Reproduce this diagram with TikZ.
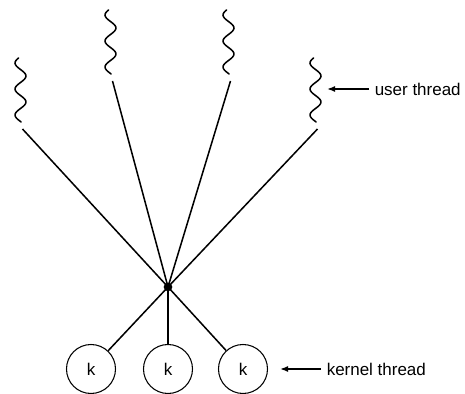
\documentclass[tikz,border=0pt]{standalone}
\usepackage{fontspec}
\setmainfont{Liberation Sans}
\usetikzlibrary{arrows.meta}

\begin{document}
\begin{tikzpicture}[x=0.03cm,y=-0.03cm,
        line width=1.3pt,
        lbl/.style={font=\fontsize{14.5}{17}\selectfont,inner sep=0pt,anchor=west},
        kthr/.style={draw,circle,line width=0.9pt,minimum size=1.47cm,inner sep=0pt,
                     font=\fontsize{14.5}{17}\selectfont},
        arr/.style={-{Latex[length=2.4mm,width=1.8mm]},line width=1.3pt},
        uthread/.pic={
            \draw[line width=1.3pt,line cap=round] plot[smooth,domain=0:64,samples=50,variable=\t]
                ({-5.5*sin(13.846*(\t+1.5))},\t);
            \coordinate (-foot) at (2,71);
        }]
        \useasboundingbox (0,0) rectangle (465,394);
        % user threads
        \pic (u1) at (20.5,58) {uthread};
        \pic (u2) at (110.5,10) {uthread};
        \pic (u3) at (228.5,10) {uthread};
        \pic (u4) at (315.5,58) {uthread};
        % multiplexing point
        \node[circle,fill,inner sep=0pt,minimum size=0.26cm] (hub) at (168,287) {};
        % kernel threads
        \node[kthr] (k1) at (91,369) {k};
        \node[kthr] (k2) at (168,369) {k};
        \node[kthr] (k3) at (243,369) {k};
        \foreach \u in {u1,u2,u3,u4}
            \draw (hub.center) -- (\u-foot);
        \foreach \k in {k1,k2,k3}
            \draw (hub.center) -- (\k);
        % labels
        \node[lbl] (ulbl) at (374,89) {user thread};
        \coordinate (utip) at (327,89);
        \draw[arr] (ulbl.west) ++(-5,0) -- (utip);
        \node[lbl] (klbl) at (326,369) {kernel thread};
        \coordinate (ktip) at (280,369);
        \draw[arr] (klbl.west) ++(-5,0) -- (ktip);
    \end{tikzpicture}
\end{document}
